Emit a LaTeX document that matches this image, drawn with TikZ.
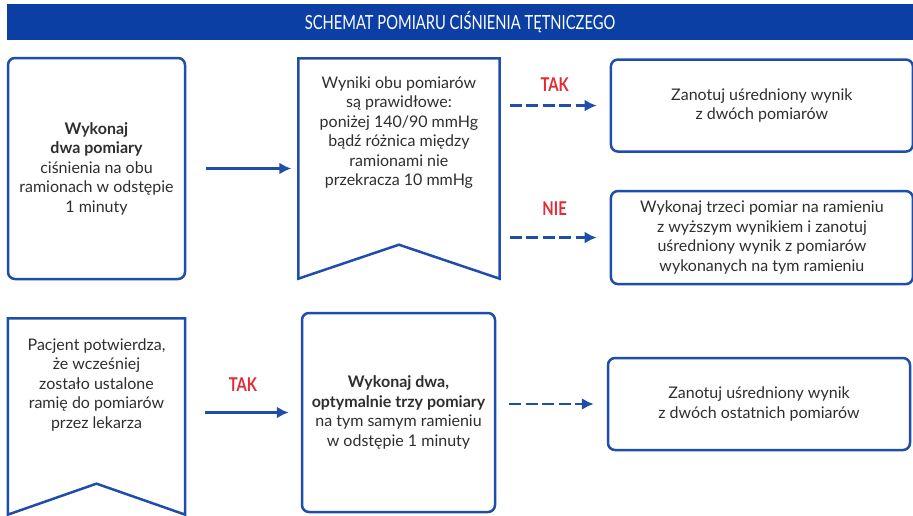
\documentclass[tikz,border=0pt]{standalone}
\usepackage{fontspec}
\setmainfont{Lato}
\usepackage{tikz}
\usetikzlibrary{arrows.meta,positioning}
\definecolor{barblue}{HTML}{0B3FA4}
\definecolor{lineblue}{HTML}{1E4DAB}
\definecolor{takred}{HTML}{E42A33}
\definecolor{txtgray}{HTML}{2E2E2E}
\newcommand{\mytxtfont}{\fontsize{16}{19.5}\selectfont}
\newcommand{\mytagfont}{\fontsize{19}{19}\selectfont\bfseries}
\newcommand{\myheadfont}{\fontsize{19.5}{19.5}\selectfont}
\newcommand{\bantext}[3]{\begin{minipage}[c][#1][t]{175pt}\centering\vspace*{#2}#3\end{minipage}}
\tikzset{
    mybox/.style={rectangle, rounded corners=7pt, draw=lineblue, line width=2.5pt, text=txtgray, align=center, font=\mytxtfont, inner sep=0pt},
    mybanner/.style={rectangle, inner sep=0pt, text=txtgray, font=\mytxtfont},
    myline/.style={draw=lineblue, line width=2.5pt, line join=miter},
    myarrow/.style={-{Latex[length=12pt,width=12pt]}, draw=lineblue, line width=2.6pt},
    mydash/.style={myarrow, dash pattern=on 12pt off 4.5pt},
    mylabel/.style={text=takred, font=\mytagfont, inner sep=0pt},
    mytitle/.style={rectangle, fill=barblue, text=white, font=\myheadfont, inner sep=0pt}
}

\begin{document}
\begin{tikzpicture}[x=1pt, y=-1pt, node distance=1cm]
\useasboundingbox (0,0) rectangle (913,515);

\node[mytitle, minimum width=906pt, minimum height=36pt] (title) at (460,22) {\raisebox{-2pt}{\scalebox{0.755}[1]{SCHEMAT POMIARU CIŚNIENIA TĘTNICZEGO}}};

% first row
\node[mybox, minimum width=177pt, minimum height=221pt] (wykonaj) at (96.5,168.5) {\textbf{Wykonaj}\\ \textbf{dwa pomiary}\\ ciśnienia na obu\\ ramionach w odstępie\\ 1 minuty};
\node[mybanner, minimum width=201pt, minimum height=220pt, right=112pt of wykonaj] (wyniki) {\bantext{220pt}{18pt}{Wyniki obu pomiarów\\ są prawidłowe:\\ poniżej 140/90 mmHg\\ bądź różnica między\\ ramionami nie\\ przekracza 10 mmHg}};
\draw[myline] (wyniki.north west) -- (wyniki.north east) -- (wyniki.south east) -- ([yshift=34pt]wyniki.south) -- (wyniki.south west) -- cycle;
\node[mybox, minimum width=302pt, minimum height=92pt, right=110pt of wyniki.north east, anchor=north west] (zanotuj) {Zanotuj uśredniony wynik\\ z dwóch pomiarów};
\node[mybox, minimum width=302pt, minimum height=93pt, below=37pt of zanotuj] (trzeci) {Wykonaj trzeci pomiar na ramieniu\\ z wyższym wynikiem i zanotuj\\ uśredniony wynik z pomiarów\\ wykonanych na tym ramieniu};

% second row
\node[mybanner, minimum width=177pt, minimum height=196pt, below=38pt of wykonaj] (pacjent) {\bantext{196pt}{20pt}{Pacjent potwierdza,\\ że wcześniej\\ zostało ustalone\\ ramię do pomiarów\\ przez lekarza}};
\draw[myline] (pacjent.north west) -- (pacjent.north east) -- (pacjent.south east) -- ([yshift=31pt]pacjent.south) -- (pacjent.south west) -- cycle;
\node[mybox, minimum width=193pt, minimum height=199pt] (dwatrzy) at (398.5,412.5) {\textbf{Wykonaj dwa,}\\ \textbf{optymalnie trzy pomiary}\\ na tym samym ramieniu\\ w odstępie 1 minuty};
\node[mybox, minimum width=302pt, minimum height=92pt] (ostatnie) at (759,404) {Zanotuj uśredniony wynik\\ z dwóch ostatnich pomiarów};

% connectors
\draw[myarrow, shorten <=20pt, shorten >=7pt] (wykonaj) -- (wyniki);
\draw[mydash, shorten <=10pt, shorten >=13pt] (wyniki.east |- zanotuj.west) -- (zanotuj.west) node[midway, above=13pt, mylabel] {\scalebox{0.78}[1]{TAK}};
\draw[mydash, shorten <=10pt, shorten >=13pt] (wyniki.east |- trzeci.west) -- (trzeci.west) node[midway, above=21pt, mylabel] {\scalebox{0.78}[1]{NIE}};
\draw[myarrow, shorten <=20pt, shorten >=12pt] (pacjent.east |- dwatrzy.west) -- (dwatrzy.west) node[midway, above=20pt, mylabel] {\scalebox{0.78}[1]{TAK}};
\draw[mydash, shorten <=13pt, shorten >=13pt] (dwatrzy.east |- ostatnie.west) -- (ostatnie.west);
\end{tikzpicture}
\end{document}
